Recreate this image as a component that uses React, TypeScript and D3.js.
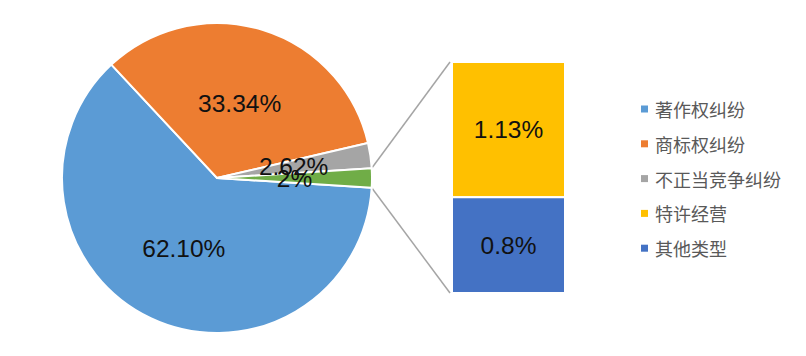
import React from "react";
import * as d3 from "d3";

const pieCategories = ["著作权纠纷", "商标权纠纷", "不正当竞争纠纷", "其他"];
const pieValues = [62.1, 33.34, 2.62, 2];
const pieLabels = ["62.10%", "33.34%", "2.62%", "2%"];
const barCategories = ["特许经营", "其他类型"];
const barValues = [1.13, 0.8];
const barLabels = ["1.13%", "0.8%"];
const legendNames = ["著作权纠纷", "商标权纠纷", "不正当竞争纠纷", "特许经营", "其他类型"];
const pieColors = ["#5B9BD5", "#ED7D31", "#A5A5A5", "#70AD47"];
const barColors = ["#FFC000", "#4472C4"];
const legendColors = ["#5B9BD5", "#ED7D31", "#A5A5A5", "#FFC000", "#4472C4"];

export default function App() {
  const W = 806, H = 356;
  const cx = 217, cy = 178, R = 155;
  const total = d3.sum(pieValues);
  const otherAngle = (pieValues[3] / total) * 2 * Math.PI;
  const start = Math.PI / 2 + otherAngle / 2;
  const pie = d3.pie<number>().sort(null).value((d) => d).startAngle(start).endAngle(start + 2 * Math.PI);
  const arcs = pie(pieValues);
  const arc = d3.arc<d3.PieArcDatum<number>>().innerRadius(0).outerRadius(R);

  const barX0 = 452, barX1 = 565, barTop = 62, barBottom = 293;
  const barTotal = d3.sum(barValues);
  const y = d3.scaleLinear().domain([0, barTotal]).range([barTop, barBottom]);
  let acc = 0;
  const bars = barValues.map((v, i) => {
    const y0 = y(acc);
    acc += v;
    const y1 = y(acc);
    return { y0, y1, v, i };
  });

  const otherArc = arcs[3];
  const pt = (a: number) => [cx + R * Math.sin(a), cy - R * Math.cos(a)];
  const pTop = pt(otherArc.startAngle);
  const pBot = pt(otherArc.endAngle);

  return (
    <svg width={W} height={H} style={{ position: "absolute", left: 0, top: 0, background: "#fff" }}>
      <line x1={pTop[0]} y1={pTop[1]} x2={barX0 - 2} y2={barTop} stroke="#A5A5A5" strokeWidth={1.5} />
      <line x1={pBot[0]} y1={pBot[1]} x2={barX0 - 2} y2={barBottom} stroke="#A5A5A5" strokeWidth={1.5} />
      {arcs.map((a, i) => (
        <path key={i} d={arc(a) || ""} transform={`translate(${cx},${cy})`} fill={pieColors[i]} stroke="#fff" strokeWidth={2} />
      ))}
      {arcs.map((a, i) => {
        const c = arc.centroid(a);
        return (
          <text key={"l" + i} x={cx + c[0]} y={cy + c[1]} textAnchor="middle" dominantBaseline="central"
            fontFamily="Liberation Sans, Arial, sans-serif" fontSize={24.5} fill="#111">
            {pieLabels[i]}
          </text>
        );
      })}
      {bars.map((b) => (
        <g key={"b" + b.i}>
          <rect x={barX0} y={b.y0} width={barX1 - barX0} height={b.y1 - b.y0} fill={barColors[b.i]} stroke="#fff" strokeWidth={2} />
          <text x={(barX0 + barX1) / 2} y={(b.y0 + b.y1) / 2} textAnchor="middle" dominantBaseline="central"
            fontFamily="Liberation Sans, Arial, sans-serif" fontSize={24.5} fill="#111">
            {barLabels[b.i]}
          </text>
        </g>
      ))}
      {legendNames.map((n, i) => (
        <g key={"lg" + i} transform={`translate(641,${109 + i * 34.8})`}>
          <rect x={0} y={-3.5} width={7} height={7} fill={legendColors[i]} />
          <text x={14} y={0} dominantBaseline="central" fontFamily="Noto Sans CJK SC, sans-serif" fontSize={18} fill="#595959">
            {n}
          </text>
        </g>
      ))}
    </svg>
  );
}
